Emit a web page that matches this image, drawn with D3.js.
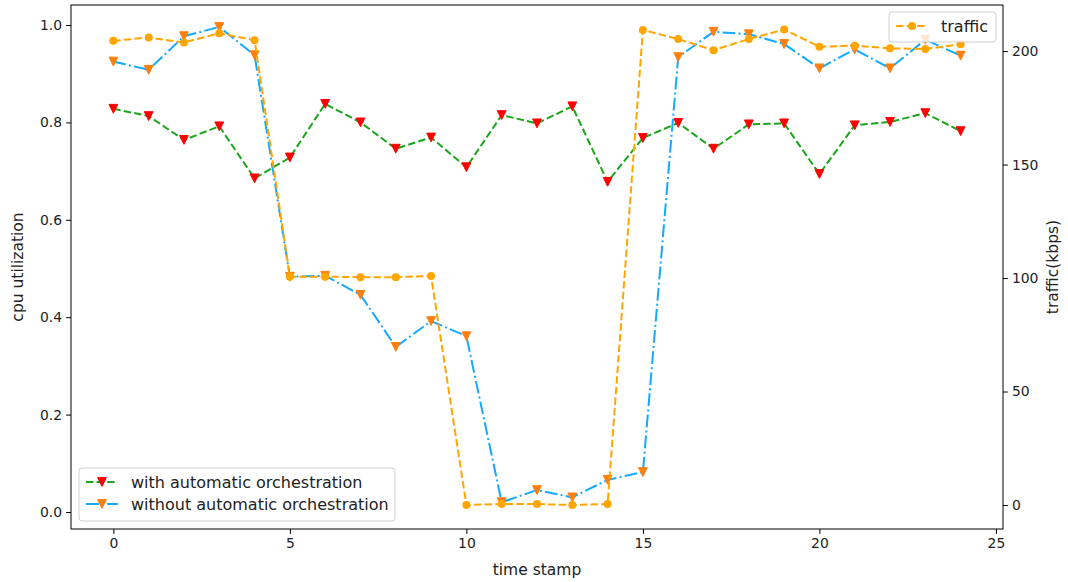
<!DOCTYPE html>
<html><head><meta charset="utf-8">
<script src="https://cdn.jsdelivr.net/npm/d3@7"></script>
<style>body{margin:0;background:#fff}svg{display:block}text{font-family:"DejaVu Sans",sans-serif;fill:#222}</style>
</head><body><svg id="c" width="1068" height="582"></svg>
<script>
const timeStamps = d3.range(0, 25);
const withOrch = [0.828,0.813,0.764,0.792,0.685,0.728,0.838,0.800,0.746,0.769,0.708,0.815,0.798,0.833,0.678,0.768,0.799,0.746,0.796,0.798,0.694,0.794,0.801,0.819,0.782];
const withoutOrch = [0.925,0.908,0.977,0.996,0.938,0.483,0.485,0.446,0.339,0.392,0.361,0.020,0.045,0.030,0.066,0.082,0.934,0.986,0.981,0.961,0.911,0.950,0.911,0.970,0.937];
const traffic = [204.5,206,203.8,207.8,204.8,100.6,100.6,100.4,100.4,100.9,0,0.4,0.4,0,0.4,209.3,205.3,200.4,205.3,209.5,201.9,202.4,201.2,200.9,203];
const xTicks = [0,5,10,15,20,25];
const cpuTicks = [0,0.2,0.4,0.6,0.8,1.0];
const trafficTicks = [0,50,100,150,200];
const legendLeft = ["with automatic orchestration","without automatic orchestration"];
const legendRight = ["traffic"];

const svg = d3.select("#c");
const L=71, R=1003, T=5, B=529;
const x = d3.scaleLinear().domain([-1.2,25.2]).range([L,R]);
const yL = d3.scaleLinear().domain([-0.0349,1.0411]).range([B,T]);
const yR = d3.scaleLinear().domain([-10.57,220.3]).range([B,T]);

const GREEN="#1aa51a", RED="#ff0000", BLUE="#12aaff", ORANGE_M="#ff7f0e", ORANGE="#ffa500";
const LW=2, DASH="7.4,3.2", DASHDOT="12.8,3.2,2,3.2";
const tri = d3.symbol().type({draw(ctx,s){const h=4.4;ctx.moveTo(0,h);ctx.lineTo(-h,-h);ctx.lineTo(h,-h);ctx.closePath();}})();

const g = svg.append("g");
function series(vals, ys, color, dash, mColor, mType){
  const line = d3.line().x((d,i)=>x(timeStamps[i])).y(d=>ys(d));
  g.append("path").attr("d",line(vals)).attr("fill","none").attr("stroke",color).attr("stroke-width",LW).attr("stroke-dasharray",dash);
  const m = g.selectAll(null).data(vals).enter();
  if(mType==="v"){
    m.append("path").attr("d",tri).attr("transform",(d,i)=>`translate(${x(timeStamps[i])},${ys(d)})`).attr("fill",mColor).attr("stroke",mColor).attr("stroke-width",1);
  } else {
    m.append("circle").attr("cx",(d,i)=>x(timeStamps[i])).attr("cy",d=>ys(d)).attr("r",4).attr("fill",mColor);
  }
}
series(withOrch, yL, GREEN, DASH, RED, "v");
series(withoutOrch, yL, BLUE, DASHDOT, ORANGE_M, "v");
series(traffic, yR, ORANGE, DASH, ORANGE, "o");

// frame
svg.append("rect").attr("x",L).attr("y",T).attr("width",R-L).attr("height",B-T).attr("fill","none").attr("stroke","#000").attr("stroke-width",1);

// axes
const ax = svg.append("g").attr("transform",`translate(0,${B})`).call(d3.axisBottom(x).tickValues(xTicks).tickFormat(d3.format("d")).tickSizeOuter(0).tickSize(4.9).tickPadding(4));
const ayl = svg.append("g").attr("transform",`translate(${L},0)`).call(d3.axisLeft(yL).tickValues(cpuTicks).tickFormat(d3.format(".1f")).tickSizeOuter(0).tickSize(4.9).tickPadding(4));
const ayr = svg.append("g").attr("transform",`translate(${R},0)`).call(d3.axisRight(yR).tickValues(trafficTicks).tickFormat(d3.format("d")).tickSizeOuter(0).tickSize(4.9).tickPadding(4));
[ax,ayl,ayr].forEach(a=>{a.select(".domain").remove();a.selectAll("text").attr("font-size",13.9).attr("font-family","DejaVu Sans").attr("fill","#222");a.selectAll("line").attr("stroke","#000");});

svg.append("text").attr("x",(L+R)/2).attr("y",575).attr("text-anchor","middle").attr("font-size",15.5).text("time stamp");
svg.append("text").attr("transform",`translate(23,${(T+B)/2}) rotate(-90)`).attr("text-anchor","middle").attr("font-size",15.5).text("cpu utilization");
svg.append("text").attr("transform",`translate(1058,${(T+B)/2}) rotate(-90)`).attr("text-anchor","middle").attr("font-size",15.5).text("traffic(kbps)");

// legends
function legend(x0,y0,w,h,items){
  const lg = svg.append("g");
  lg.append("rect").attr("x",x0).attr("y",y0).attr("width",w).attr("height",h).attr("rx",3).attr("fill","rgba(255,255,255,0.8)").attr("stroke","#d0d0d0");
  items.forEach((it,i)=>{
    const cy = y0+14+i*22;
    lg.append("line").attr("x1",x0+7).attr("x2",x0+39).attr("y1",cy).attr("y2",cy).attr("stroke",it.color).attr("stroke-width",LW).attr("stroke-dasharray",it.dash);
    if(it.m==="v") lg.append("path").attr("d",tri).attr("transform",`translate(${x0+23},${cy})`).attr("fill",it.mc).attr("stroke",it.mc);
    else lg.append("circle").attr("cx",x0+23).attr("cy",cy).attr("r",4).attr("fill",it.mc);
    lg.append("text").attr("x",x0+52).attr("y",cy+5.5).attr("font-size",16).text(it.label);
  });
}
legend(79,468,316,53,[{label:legendLeft[0],color:GREEN,dash:DASH,m:"v",mc:RED},{label:legendLeft[1],color:BLUE,dash:DASHDOT,m:"v",mc:ORANGE_M}]);
legend(889,12,107,30,[{label:legendRight[0],color:ORANGE,dash:DASH,m:"o",mc:ORANGE}]);
</script></body></html>
